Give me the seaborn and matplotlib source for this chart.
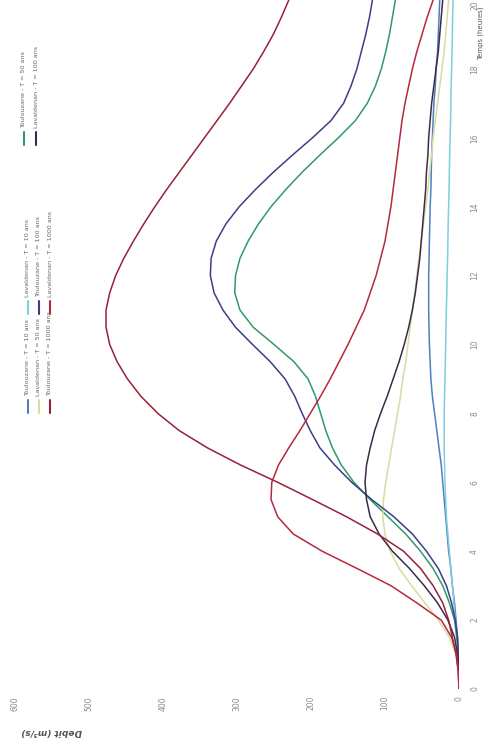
import numpy as np
import pandas as pd
import matplotlib
matplotlib.use("Agg")
import matplotlib.pyplot as plt
import seaborn as sns
from matplotlib.lines import Line2D

# ---------------- data ----------------
temps = [0, 0.5, 1, 1.5, 2, 2.5, 3, 3.5, 4, 4.5, 5, 5.5, 6, 6.5, 7, 7.5, 8, 8.5, 9, 9.5,
         10, 10.5, 11, 11.5, 12, 12.5, 13, 13.5, 14, 14.5, 15, 15.5, 16, 16.5, 17, 17.5,
         18, 18.5, 19, 19.5, 20]

toulouzane_10 = [0, 0, 1, 2, 4, 6, 9, 11, 14, 16, 18, 20, 22, 24, 27, 30, 33, 36, 38, 39,
                 40, 40.5, 41, 41, 41, 40.5, 40, 39.5, 39, 38, 37.5, 37, 36, 35, 34, 32,
                 31, 29, 28, 27, 26]
lavaldenan_10 = [0, 0, 1, 3, 5, 7, 9, 11, 13, 15, 17, 18, 19, 19.5, 20, 20, 20, 19.5, 19, 18.5,
                 18, 17.6, 17.1, 16.5, 16.1, 15.4, 15, 14.6, 14, 13.4, 13, 12.6, 12, 11.4, 11, 10.6,
                 10, 9.4, 9, 8.6, 8]
toulouzane_50 = [0, 0, 1, 3, 6, 13, 22, 35, 52, 72, 96, 120, 142, 159, 171, 180, 187, 194, 204, 223,
                 250, 278, 296, 303, 302, 296, 285, 271, 254, 234, 212, 188, 163, 140, 124, 113,
                 105, 99, 94, 90, 86]
lavaldenan_50 = [0, 0, 4, 13, 28, 46, 64, 81, 93, 100, 103, 102, 99, 95, 91, 87, 83, 79, 76, 72,
                 69, 66, 63, 60, 57, 54, 51, 48, 45, 42, 40, 37, 35, 32, 29, 26,
                 23, 20, 18, 16, 14]
toulouzane_100 = [0, 0, 1, 2, 5, 10, 17, 28, 44, 63, 88, 118, 145, 168, 188, 201, 212, 222, 235, 255,
                  279, 302, 319, 331, 336, 335, 328, 315, 297, 275, 251, 225, 198, 173, 156, 146,
                  138, 132, 126, 121, 117]
lavaldenan_100 = [0, 0, 2, 6, 15, 29, 47, 67, 90, 108, 120, 125, 127, 125, 120, 114, 106, 97, 89, 81,
                  74, 68, 63, 59, 56, 53, 51, 49, 47, 45, 44, 42, 41, 39, 37, 34,
                  31, 28, 26, 24, 22]
toulouzane_1000 = [0, 1, 4, 9, 14, 22, 35, 52, 75, 110, 152, 198, 245, 295, 340, 378, 407, 430, 448, 462,
                   472, 477, 477, 472, 464, 453, 440, 426, 411, 395, 378, 361, 344, 327, 310, 294,
                   278, 264, 251, 240, 230]
lavaldenan_1000 = [0, 1, 3, 10, 24, 57, 92, 138, 185, 224, 245, 254, 253, 244, 230, 215, 201, 187, 174, 162,
                   150, 139, 128, 120, 112, 106, 100, 96, 92, 89, 86, 83, 80, 77, 73, 68,
                   63, 57, 50, 43, 35]

series_names = ["Toulouzane - T = 10 ans", "Lavaldenan - T = 10 ans", "Toulouzane - T = 50 ans",
                "Lavaldenan - T = 50 ans", "Toulouzane - T = 100 ans", "Lavaldenan - T = 100 ans",
                "Toulouzane - T = 1000 ans", "Lavaldenan - T = 1000 ans"]
series_values = [toulouzane_10, lavaldenan_10, toulouzane_50, lavaldenan_50,
                 toulouzane_100, lavaldenan_100, toulouzane_1000, lavaldenan_1000]
series_colors = ["#4f7fc0", "#7ccfe0", "#2f9a6a", "#d9dca0",
                 "#3c3f86", "#3d2a48", "#9a2038", "#b5283f"]

debit_ticks = [0, 100, 200, 300, 400, 500, 600]
temps_ticks = [0, 2, 4, 6, 8, 10, 12, 14, 16, 18, 20]

df = pd.concat([pd.DataFrame({"Temps": temps, "Debit": v, "Serie": n})
                for n, v in zip(series_names, series_values)], ignore_index=True)
palette = dict(zip(series_names, series_colors))

# ---------------- figure ----------------
sns.set_theme(style="white")
plt.rcParams["font.family"] = ["DejaVu Sans"]

W, H = 487, 749
fig = plt.figure(figsize=(W / 100, H / 100), dpi=100)
fig.patch.set_facecolor("white")
ax = fig.add_axes([15 / W, 60 / H, 444 / W, 689 / H])

sns.lineplot(data=df, x="Debit", y="Temps", hue="Serie", palette=palette,
             orient="y", estimator=None, legend=False, linewidth=1.1, ax=ax)

ax.set_xlim(600, 0)
ax.set_ylim(0, 20)
ax.set_xticks(debit_ticks)
ax.set_xticklabels([str(t) for t in debit_ticks])
ax.set_yticks(temps_ticks)
ax.set_yticklabels([str(t) for t in temps_ticks])
ax.yaxis.tick_right()
ax.tick_params(axis="x", length=0, pad=5, labelrotation=90, labelsize=5.5, labelcolor="#8a8a8a")
ax.tick_params(axis="y", length=0, pad=8, labelrotation=90, labelsize=5.5, labelcolor="#8a8a8a")
ylabs = ax.get_yticklabels()
for lab in ylabs:
    lab.set_va("center")
ylabs[-1].set_va("top")
for s in ax.spines.values():
    s.set_visible(False)
ax.grid(False)
ax.set_facecolor("white")

ax.set_xlabel("Debit (m³/s)", rotation=180, fontsize=6.5, fontstyle="italic",
              fontweight="bold", color="#555555")
ax.xaxis.set_label_coords((52 - 15) / 444, (689 - 727) / 689)
ax.yaxis.set_label_position("right")
ax.set_ylabel("Temps (heures)", rotation=90, fontsize=5, color="#555555")
ax.yaxis.set_label_coords((481 - 15) / 444, (689 - 33) / 689)
ax.yaxis.label.set_va("center")
ax.yaxis.label.set_ha("center")

# ---------------- legend (rotated, drawn by hand) ----------------
group_start = [396, 297, 128]               # pixel y where the text begins (reads upward)
group_rows = [[28, 39, 50], [28, 39, 50], [24, 36, 48]]
for k, (name, col) in enumerate(zip(series_names, series_colors)):
    g, r = k % 3, k // 3
    x = group_rows[g][r]
    y0 = group_start[g]
    fig.add_artist(Line2D([x / W, x / W], [1 - (y0 + 4) / H, 1 - (y0 + 17) / H],
                          transform=fig.transFigure, color=col, lw=1.5))
    fig.text(x / W, 1 - y0 / H, name, rotation=90, ha="center", va="bottom",
             fontsize=4.6, color="#666666")

fig.savefig("out.png", dpi=100, facecolor="white")
